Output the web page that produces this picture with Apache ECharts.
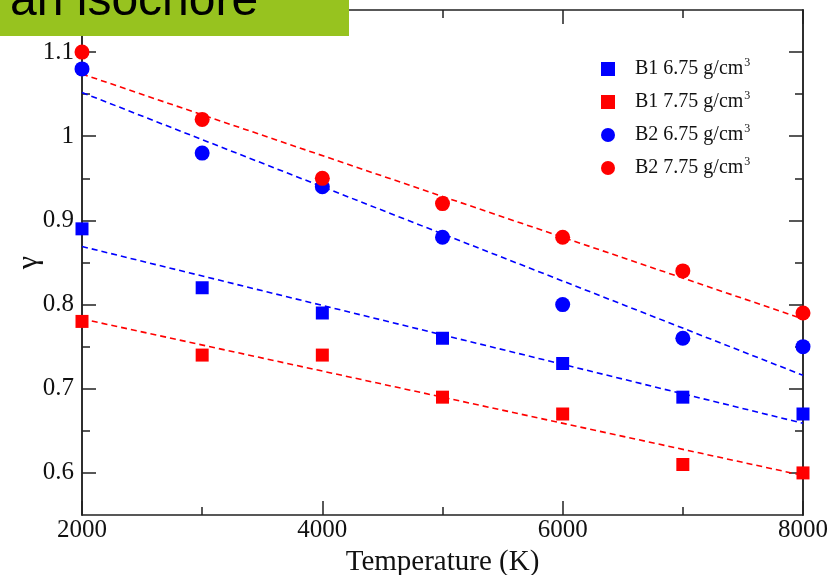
<!DOCTYPE html>
<html>
<head>
<meta charset="utf-8">
<script src="https://cdn.jsdelivr.net/npm/echarts@6/dist/echarts.min.js"></script>
<style>
  html, body { margin: 0; padding: 0; background: #fff; }
  #chart { width: 831px; height: 575px; }
</style>
</head>
<body>
<div id="chart"></div>
<script>
// Temperatures (K)
const temperatures = [2000, 3000, 4000, 5000, 6000, 7000, 8000];

// Grüneisen parameter gamma along isochores
const b1Low  = [0.89, 0.82, 0.79, 0.76, 0.73, 0.69, 0.67];   // B1 6.75 g/cm3
const b1High = [0.78, 0.74, 0.74, 0.69, 0.67, 0.61, 0.60];   // B1 7.75 g/cm3
const b2Low  = [1.08, 0.98, 0.94, 0.88, 0.80, 0.76, 0.75];   // B2 6.75 g/cm3
const b2High = [1.10, 1.02, 0.95, 0.92, 0.88, 0.84, 0.79];   // B2 7.75 g/cm3

// Linear-fit end points at 2000 K and 8000 K
const fitX      = [2000, 8000];
const fitB1Low  = [0.869, 0.659];
const fitB1High = [0.783, 0.597];
const fitB2Low  = [1.052, 0.716];
const fitB2High = [1.074, 0.783];

const seriesNames = ['B1 6.75 g/cm3', 'B1 7.75 g/cm3', 'B2 6.75 g/cm3', 'B2 7.75 g/cm3'];

// Axis tick positions
const xLabelTicks = [2000, 4000, 6000, 8000];
const yMajorTicks = [0.6, 0.7, 0.8, 0.9, 1.0, 1.1];
const yMinorTicks = [0.65, 0.75, 0.85, 0.95, 1.05];

const BLUE = '#0000ff';
const RED = '#ff0000';
const AXIS = '#222';
const SERIF = '"Liberation Serif", "DejaVu Serif", serif';

const pairs = (xs, ys) => xs.map((x, i) => [x, ys[i]]);

const chart = echarts.init(document.getElementById('chart'));

const axisLine = { show: true, onZero: false, lineStyle: { color: AXIS, width: 1.5 } };
const tickMajor = { show: true, inside: true, length: 14, lineStyle: { color: AXIS, width: 1.5 } };

function yAxisDef(position, ticks, len, withLabels) {
  return {
    type: 'value', position: position, min: 0.55, max: 1.15,
    axisLine: axisLine,
    axisTick: { show: true, inside: true, length: len, customValues: ticks,
                lineStyle: { color: AXIS, width: 1.5 } },
    axisLabel: withLabels ? {
      show: true, customValues: yMajorTicks, margin: 8,
      color: '#111', fontFamily: SERIF, fontSize: 25,
      formatter: v => String(Math.round(v * 10) / 10)
    } : { show: false },
    splitLine: { show: false },
    name: withLabels ? 'γ' : '',
    nameLocation: 'middle', nameGap: 38, nameMoveOverlap: false,
    nameTextStyle: { fontFamily: SERIF, fontSize: 30, color: '#111' }
  };
}

function xAxisDef(position, withLabels) {
  return {
    type: 'value', position: position, min: 2000, max: 8000, interval: 2000,
    axisLine: axisLine,
    axisTick: tickMajor,
    minorTick: { show: true, splitNumber: 2, length: 8, lineStyle: { color: AXIS, width: 1.5 } },
    axisLabel: withLabels ? {
      show: true, margin: 3, color: '#111', fontFamily: SERIF, fontSize: 25,
      customValues: xLabelTicks, formatter: v => String(v)
    } : { show: false },
    splitLine: { show: false },
    minorSplitLine: { show: false },
    name: withLabels ? 'Temperature (K)' : '',
    nameLocation: 'middle', nameGap: 26,
    nameTextStyle: { fontFamily: SERIF, fontSize: 29, color: '#111' }
  };
}

function scatter(name, ys, symbol, color, size) {
  return {
    name: name, type: 'scatter', data: pairs(temperatures, ys),
    symbol: symbol, symbolSize: size, itemStyle: { color: color, opacity: 1 },
    z: 5
  };
}

function fit(ys, color) {
  return {
    type: 'line', data: pairs(fitX, ys), symbol: 'none', silent: true,
    lineStyle: { color: color, width: 1.6, type: [6, 4] }, z: 3
  };
}

chart.setOption({
  animation: false,
  backgroundColor: '#fff',
  grid: { left: 82, right: 28, top: 10, bottom: 60, outerBoundsMode: 'none', containLabel: false },
  xAxis: [xAxisDef('bottom', true), xAxisDef('top', false)],
  yAxis: [
    yAxisDef('left', yMajorTicks, 14, true),
    yAxisDef('left', yMinorTicks, 8, false),
    yAxisDef('right', yMajorTicks, 14, false),
    yAxisDef('right', yMinorTicks, 8, false)
  ],
  legend: {
    orient: 'vertical', left: 596, top: 52,
    itemWidth: 14, itemHeight: 14, itemGap: 9,
    data: [
      { name: seriesNames[0], icon: 'rect' },
      { name: seriesNames[1], icon: 'rect' },
      { name: seriesNames[2], icon: 'circle' },
      { name: seriesNames[3], icon: 'circle' }
    ],
    formatter: n => n.replace('cm3', 'cm') + '{sup|3}',
    textStyle: {
      fontFamily: SERIF, fontSize: 20, color: '#111', lineHeight: 24,
      padding: [0, 0, 0, 15],
      rich: { sup: { fontFamily: SERIF, fontSize: 12, lineHeight: 8, verticalAlign: 'top', padding: [0, 0, 0, 1] } }
    }
  },
  series: [
    fit(fitB1Low, BLUE), fit(fitB1High, RED), fit(fitB2Low, BLUE), fit(fitB2High, RED),
    scatter(seriesNames[0], b1Low, 'rect', BLUE, 13),
    scatter(seriesNames[1], b1High, 'rect', RED, 13),
    scatter(seriesNames[2], b2Low, 'circle', BLUE, 15),
    scatter(seriesNames[3], b2High, 'circle', RED, 15)
  ],
  graphic: [
    { type: 'rect', left: 0, top: 0, z: 100,
      shape: { width: 349, height: 36 }, style: { fill: '#97c31f' } },
    { type: 'text', x: 10, y: 2, z: 101,
      style: { text: 'an isochore', fill: '#000', fontFamily: '"Liberation Sans", Arial, sans-serif',
               fontSize: 48, verticalAlign: 'middle', align: 'left' } }
  ]
});
</script>
</body>
</html>
